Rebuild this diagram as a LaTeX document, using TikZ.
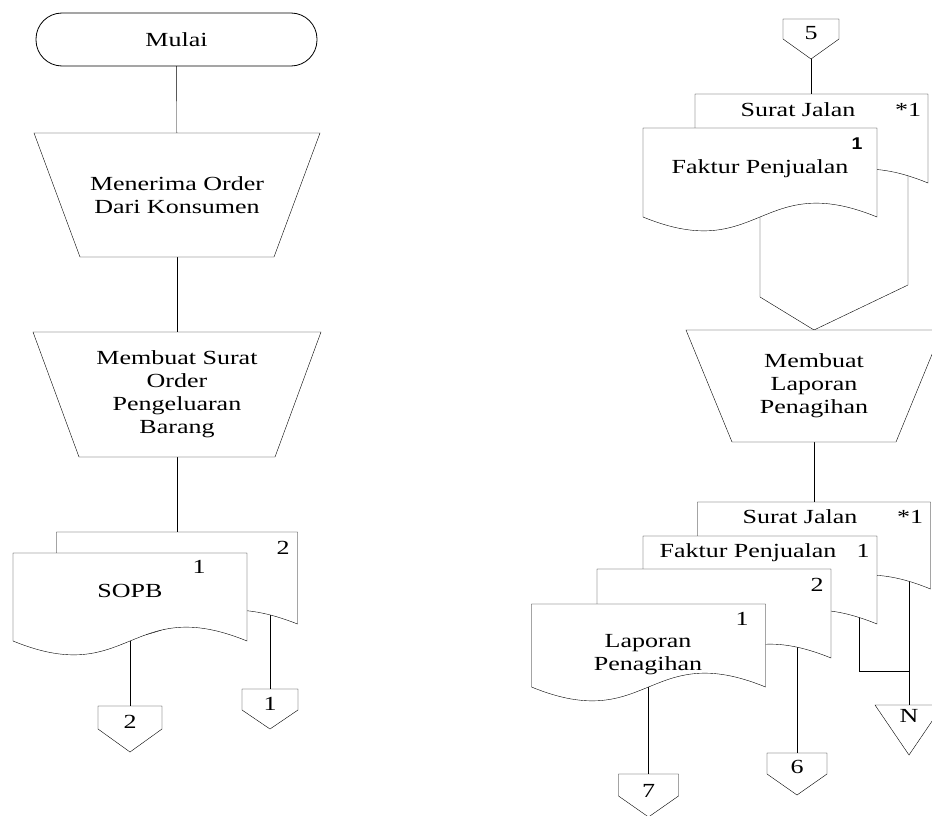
\documentclass[tikz,border=0pt]{standalone}
\usepackage{fontspec}
\setmainfont{Liberation Serif}[FakeStretch=1.3]
\newfontfamily\boldsans{Liberation Sans}[FakeStretch=1.15]
\usetikzlibrary{calc}
\pgfdeclarelayer{bg}
\pgfdeclarelayer{mid}
\pgfsetlayers{bg,mid,main}
\newcommand\fs{\fontsize{20}{23}\selectfont}
\newcommand\vmove[2]{\raisebox{#1}[\height][\depth]{#2}}
\newcommand\docshape[1]{\draw[shp] (#1.north west) -- (#1.north east) -- (#1.south east) .. controls ($(#1.south)+(0,-48)$) and ($(#1.south)+(0,48)$) .. (#1.south west) -- cycle;}
\newcommand\offpage[2]{\draw[shp] (#1.north west) -- (#1.north east) -- (#1.south east) -- ($(#1.south)+(0,#2)$) -- (#1.south west) -- cycle;}
\newcommand\trapshape[2]{\draw[shp] (#1.north west) -- (#1.north east) -- ($(#1.south east)+(-#2,0)$) -- ($(#1.south west)+(#2,0)$) -- cycle;}
\begin{document}
\begin{tikzpicture}[x=1pt,y=-1pt,line width=0.8pt,
  frame/.style={inner sep=0pt,outer sep=0pt,align=center,font=\fs},
  shp/.style={draw,fill=white,line join=miter},
  lbl/.style={inner sep=0pt,outer sep=0pt,font=\fs,anchor=base},
  bsans/.style={inner sep=0pt,outer sep=0pt,anchor=base,font={\fontsize{17}{20}\boldsans\bfseries}}]
\useasboundingbox (0,0) rectangle (932,816);

% ---------- left column ----------
\node[frame,draw,fill=white,rounded corners=26pt,minimum width=281pt,minimum height=53pt] (mulai) at (176.5,39.5) {Mulai};
\node[frame,minimum width=286pt,minimum height=124pt] (p1) at (177,195) {Menerima Order\\Dari Konsumen};
\node[frame,minimum width=288pt,minimum height=125pt] (p2) at (177,394.5) {Membuat Surat\\Order\\Pengeluaran\\Barang};
\node[frame,minimum width=241pt,minimum height=92pt] (d2) at (177,578) {};
\node[frame,minimum width=234pt,minimum height=88pt] (d1) at (130,597) {};
\node[lbl] (d2n) at (283,554) {2};
\node[lbl] (d1n) at (199,573) {1};
\node[lbl] (d1t) at (130,597) {SOPB};
\node[frame,minimum width=64pt,minimum height=23pt] (c2) at (130,717.5) {\vmove{-4.5pt}{2}};
\node[frame,minimum width=56pt,minimum height=21pt] (c1) at (270,699.5) {\vmove{-4.5pt}{1}};

% ---------- right column ----------
\node[frame,minimum width=56pt,minimum height=20pt] (c5) at (811,29) {\vmove{-4.5pt}{5}};
\node[frame,minimum width=233pt,minimum height=89pt] (sj1) at (811.5,138.5) {};
\node[frame,minimum width=234pt,minimum height=89pt] (fp1) at (760,172.5) {};
\node[lbl] (sj1t) at (798,116) {Surat Jalan};
\node[lbl] (sj1n) at (908,116) {*1};
\node[bsans] (fp1n) at (857,149) {1};
\node[lbl] (fp1t) at (760,173) {Faktur Penjualan};
\coordinate (vl) at (760,297);
\coordinate (vr) at (908,285);
\node[frame,minimum width=256pt,minimum height=112pt] (p3) at (814,386) {Membuat\\Laporan\\Penagihan};

\node[frame,minimum width=233pt,minimum height=87pt] (dA) at (814,545.5) {};
\node[frame,minimum width=234pt,minimum height=88pt] (dB) at (760,580) {};
\node[frame,minimum width=234pt,minimum height=89pt] (dC) at (714,613.5) {};
\node[frame,minimum width=234pt,minimum height=83pt] (dD) at (648.5,645.5) {};
\node[lbl] (dAt) at (800,523) {Surat Jalan};
\node[lbl] (dAn) at (910,523) {*1};
\node[lbl] (dBt) at (748,557) {Faktur Penjualan};
\node[lbl] (dBn) at (863,557) {1};
\node[lbl] (dCn) at (817,591) {2};
\node[lbl] (dDn) at (742,625) {1};
\node[frame] (dDt) at (648,655) {Laporan\\Penagihan};
\node[frame,minimum width=60pt,minimum height=22pt] (c7) at (648.5,785) {\vmove{-5.5pt}{7}};
\node[frame,minimum width=60pt,minimum height=21pt] (c6) at (797,763.5) {\vmove{-3pt}{6}};
\node[frame,minimum width=68pt,minimum height=50pt] (nT) at (909,730) {\vmove{14pt}{N}};
\coordinate (bb) at (859,671);

% ---------- shapes ----------
\begin{pgfonlayer}{mid}
\trapshape{p1}{46}
\trapshape{p2}{46}
\trapshape{p3}{46}
\docshape{d2}
\docshape{d1}
\offpage{c2}{23}
\offpage{c1}{19}
\offpage{c5}{20}
\docshape{sj1}
\docshape{fp1}
\docshape{dA}
\docshape{dB}
\docshape{dC}
\docshape{dD}
\offpage{c7}{21}
\offpage{c6}{21}
\draw[shp] (nT.north west) -- (nT.north east) -- (nT.south) -- cycle;
\end{pgfonlayer}

% ---------- connectors ----------
\begin{pgfonlayer}{bg}
\draw (mulai) -- (p1);
\draw (p1) -- (p2);
\draw (p2) -- (d2);
\draw (d1) -- (c2);
\draw (c1 |- d2) -- (c1);
\draw (c5) -- (c5 |- sj1);
\draw (fp1) -- (vl) -- (p3.north);
\draw (vr |- sj1) -- (vr) -- (p3.north);
\draw (p3) -- (dA);
\draw (dD) -- (c7);
\draw (c6 |- dC) -- (c6);
\draw (bb |- dB) -- (bb) -- (bb -| nT);
\draw (nT |- dA) -- (nT);
\end{pgfonlayer}
\end{tikzpicture}
\end{document}
